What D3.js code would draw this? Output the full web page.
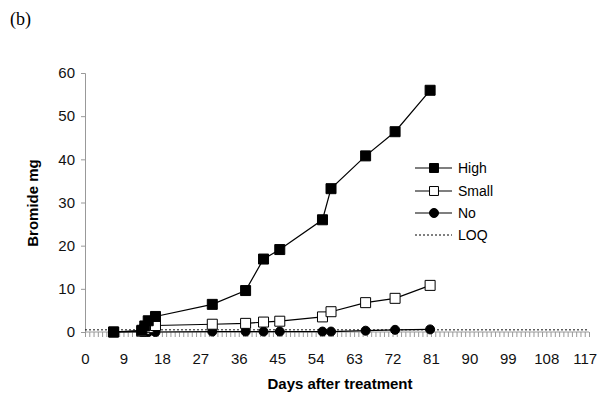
<!DOCTYPE html>
<html>
<head>
  <script src="https://d3js.org/d3.v7.min.js"></script>
  <style>
    body { margin: 0; background: #fff; }
    text { font-family: Arial, "Liberation Sans", sans-serif; }
  </style>
</head>
<body>
  <svg id="chart" width="608" height="396"></svg>
  <script>
    // values
    var days  = [6.7, 13.3, 14, 14.8, 16.5, 29.8, 37.6, 41.8, 45.6, 55.6, 57.6, 65.7, 72.6, 80.8];
    var high  = [0, 0.4, 1.4, 2.6, 3.6, 6.4, 9.6, 16.9, 19.1, 26.0, 33.2, 40.8, 46.4, 56.0];
    var small = [0, 0.2, 0.6, 1.0, 1.5, 1.8, 2.0, 2.3, 2.5, 3.5, 4.7, 6.8, 7.8, 10.8];
    var none  = [0, 0, 0, 0, 0, 0.1, 0.1, 0.1, 0.1, 0.1, 0.1, 0.3, 0.5, 0.6];
    var loq = 0.5;
    var xTicks = d3.range(0, 118, 9);
    var yTicks = [0, 10, 20, 30, 40, 50, 60];
    var legendNames = ["High", "Small", "No", "LOQ"];

    var svg = d3.select("#chart");

    var x = d3.scaleLinear().domain([0, 118]).range([85, 589]);
    var y = d3.scaleLinear().domain([0, 60]).range([332, 73]);

    // panel label
    svg.append("text")
      .attr("x", 10).attr("y", 25)
      .style("font-family", "'Liberation Serif', 'Times New Roman', serif")
      .style("font-size", "18px")
      .text("(b)");

    // y axis
    var yAxis = svg.append("g")
      .attr("transform", "translate(" + x(0) + ",0)")
      .call(d3.axisLeft(y).tickValues(yTicks).tickSize(4).tickPadding(6));
    yAxis.selectAll("path, line").attr("stroke", "#999");
    yAxis.selectAll("text").style("font-size", "15px").attr("fill", "#111")
      .style("font-family", "Arial, 'Liberation Sans', sans-serif");

    // x axis: minor ticks every day, labels every 9
    var xAxisG = svg.append("g").attr("transform", "translate(0," + y(0) + ")");
    xAxisG.call(d3.axisBottom(x).tickValues(d3.range(0, 119)).tickSize(5).tickFormat(""));
    xAxisG.selectAll("path, line").attr("stroke", "#999");
    xAxisG.select(".domain").attr("d", "M" + x(0) + ",0H" + x(118));
    var xLab = svg.append("g").attr("transform", "translate(0," + y(0) + ")")
      .call(d3.axisBottom(x).tickValues(xTicks).tickSize(0).tickPadding(21));
    xLab.select(".domain").remove();
    xLab.selectAll("text").style("font-size", "15px").attr("fill", "#111")
      .style("font-family", "Arial, 'Liberation Sans', sans-serif");

    // axis titles
    svg.append("text")
      .attr("x", 340).attr("y", 389)
      .attr("text-anchor", "middle")
      .style("font-size", "15px").style("font-weight", "bold")
      .text("Days after treatment");

    svg.append("text")
      .attr("transform", "translate(38,203) rotate(-90)")
      .attr("text-anchor", "middle")
      .style("font-size", "15px").style("font-weight", "bold")
      .text("Bromide mg");

    // LOQ
    svg.append("line")
      .attr("x1", x(0)).attr("x2", x(118))
      .attr("y1", y(loq)).attr("y2", y(loq))
      .attr("stroke", "#111").attr("stroke-width", 1)
      .attr("stroke-dasharray", "2,2");

    var line = d3.line()
      .x(function(d) { return x(d[0]); })
      .y(function(d) { return y(d[1]); });

    function drawSeries(vals, shape, fill) {
      var pts = days.map(function(d, i) { return [d, vals[i]]; });
      svg.append("path")
        .datum(pts)
        .attr("d", line)
        .attr("fill", "none")
        .attr("stroke", "#000")
        .attr("stroke-width", 1.2);
      var sym = d3.symbol().type(shape).size(shape === d3.symbolCircle ? 64 : 100);
      svg.selectAll(null)
        .data(pts)
        .enter()
        .append("path")
        .attr("d", sym)
        .attr("transform", function(d) { return "translate(" + x(d[0]) + "," + y(d[1]) + ")"; })
        .attr("fill", fill)
        .attr("stroke", "#000")
        .attr("stroke-width", 1);
    }

    drawSeries(none, d3.symbolCircle, "#000");
    drawSeries(small, d3.symbolSquare, "#fff");
    drawSeries(high, d3.symbolSquare, "#000");

    // legend
    var legendY = [168, 191, 213, 235];
    var legendShape = [d3.symbolSquare, d3.symbolSquare, d3.symbolCircle, null];
    var legendFill = ["#000", "#fff", "#000", null];
    legendNames.forEach(function(name, i) {
      var g = svg.append("g").attr("transform", "translate(0," + legendY[i] + ")");
      g.append("line")
        .attr("x1", 415).attr("x2", 452).attr("y1", 0).attr("y2", 0)
        .attr("stroke", "#000")
        .attr("stroke-width", legendShape[i] ? 1.2 : 1)
        .attr("stroke-dasharray", legendShape[i] ? null : "2,2");
      if (legendShape[i]) {
        g.append("path")
          .attr("d", d3.symbol().type(legendShape[i]).size(legendShape[i] === d3.symbolCircle ? 64 : 80))
          .attr("transform", "translate(434,0)")
          .attr("fill", legendFill[i])
          .attr("stroke", "#000");
      }
      g.append("text")
        .attr("x", 458).attr("y", 5)
        .style("font-size", "14px")
        .text(name);
    });
  </script>
</body>
</html>
